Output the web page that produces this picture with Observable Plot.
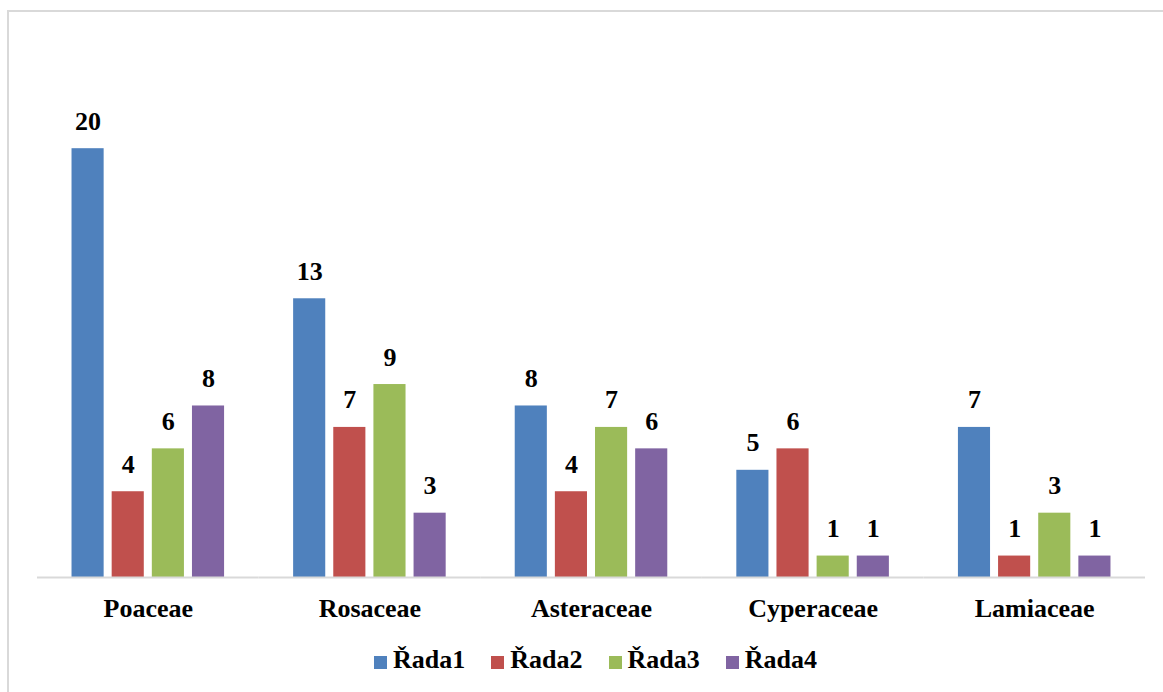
<!DOCTYPE html>
<html>
<head>
<meta charset="utf-8">
<script src="https://cdn.jsdelivr.net/npm/d3@7"></script>
<script src="https://cdn.jsdelivr.net/npm/@observablehq/plot@0.6"></script>
<style>
  html, body { margin: 0; padding: 0; background: #fff; }
  #wrap { position: relative; width: 1163px; height: 692px; overflow: hidden; }
  #frame { position: absolute; left: 7px; top: 10px; width: 1200px; height: 800px;
           border-top: 2px solid #d9d9d9; border-left: 2px solid #d9d9d9; }
  #chart { position: absolute; left: 0; top: 0; }
  #legend { position: absolute; left: 374px; top: 647px; display: flex; align-items: flex-start;
            font-family: "Liberation Serif", "Times New Roman", serif; font-weight: bold; font-size: 26px;
            line-height: 26px; color: #000; }
  .item { display: flex; align-items: flex-start; margin-right: 26px; }
  .sw { width: 13px; height: 13px; margin-top: 9px; margin-right: 6px; }
</style>
</head>
<body>
<div id="wrap">
  <div id="frame"></div>
  <div id="chart"></div>
  <div id="legend"></div>
</div>
<script>
// Plant families and the four series counted for each
const categories = ["Poaceae", "Rosaceae", "Asteraceae", "Cyperaceae", "Lamiaceae"];
const series = ["Řada1", "Řada2", "Řada3", "Řada4"];
const rada1 = [20, 13, 8, 5, 7];
const rada2 = [4, 7, 4, 6, 1];
const rada3 = [6, 9, 7, 1, 3];
const rada4 = [8, 3, 6, 1, 1];
const colors = ["#4f81bd", "#c0504d", "#9bbb59", "#8064a2"];
const serifFont = "'Liberation Serif', 'Times New Roman', serif";

const values = [rada1, rada2, rada3, rada4];
const data = [];
categories.forEach((cat, i) => {
  series.forEach((s, j) => data.push({cat, series: s, value: values[j][i]}));
});

const chart = Plot.plot({
  width: 1163,
  height: 640,
  marginLeft: 37,
  marginRight: 18,
  marginTop: 41,
  marginBottom: 63,
  style: {fontFamily: serifFont, fontSize: "26px", fontWeight: "bold", color: "#000", background: "transparent"},
  fx: {domain: categories, padding: 0, round: false, label: null, axis: "bottom", tickSize: 0, tickPadding: 21},
  x: {domain: series, paddingInner: 0.2, paddingOuter: 0.86, round: false, axis: null},
  y: {domain: [0, 25], axis: null},
  color: {domain: series, range: colors},
  marks: [
    Plot.barY(data, {fx: "cat", x: "series", y: "value", fill: "series"}),
    Plot.ruleY([0], {stroke: "#d9d9d9", strokeWidth: 2}),
    Plot.text(data, {fx: "cat", x: "series", y: "value", text: d => String(d.value),
                     lineAnchor: "bottom", dy: -19, fill: "#000", fontSize: 26, fontWeight: "bold",
                     fontFamily: serifFont})
  ]
});
document.getElementById("chart").appendChild(chart);

const legend = document.getElementById("legend");
series.forEach((s, i) => {
  const item = document.createElement("div");
  item.className = "item";
  const sw = document.createElement("div");
  sw.className = "sw";
  sw.style.background = colors[i];
  const label = document.createElement("span");
  label.textContent = s;
  item.appendChild(sw);
  item.appendChild(label);
  legend.appendChild(item);
});
</script>
</body>
</html>
